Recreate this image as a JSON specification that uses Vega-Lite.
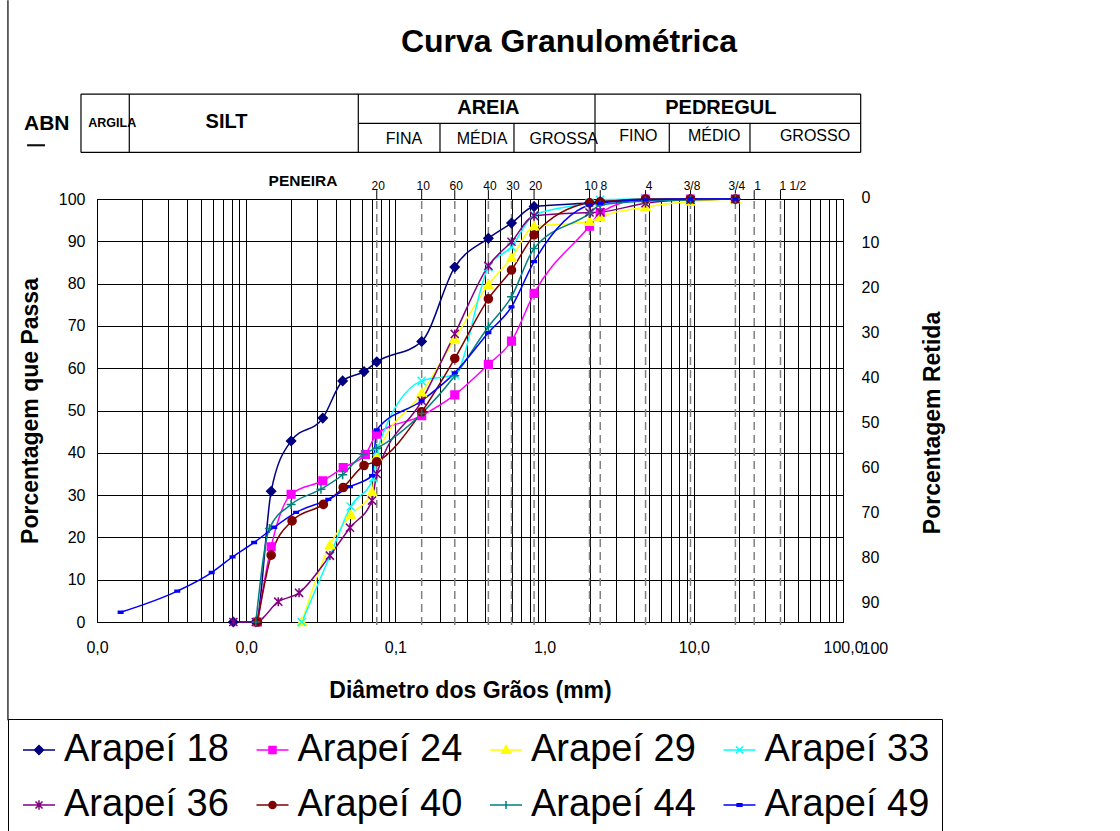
{
  "$schema": "https://vega.github.io/schema/vega-lite/v6.json",
  "width": 746,
  "height": 423,
  "autosize": {"type": "none"},
  "padding": {"left": 97, "top": 199, "right": 277, "bottom": 209},
  "background": "white",
  "config": {
    "font": "Liberation Sans",
    "view": {"stroke": "black", "strokeWidth": 1},
    "axis": {"labelColor": "black", "titleColor": "black", "labelFont": "Liberation Sans", "titleFont": "Liberation Sans"},
    "legend": {
      "orient": "none", "legendX": -89, "legendY": 520, "columns": 4, "direction": "horizontal",
      "strokeColor": "black", "padding": 12, "columnPadding": 24.5, "rowPadding": 17,
      "labelFontSize": 38, "labelColor": "black", "labelLimit": 400, "labelOffset": 6, "labelFont": "Liberation Sans",
      "symbolSize": 1024, "symbolStrokeWidth": 1.5
    }
  },
  "title": {"text": "Curva Granulométrica", "fontSize": 32, "fontWeight": "bold", "anchor": "middle", "frame": "group", "baseline": "bottom", "offset": -91, "dx": 99, "color": "black", "font": "Liberation Sans"},
  "datasets": {
    "series": [
      {"s":"Arapeí 18","d":0.0082,"p":0},{"s":"Arapeí 18","d":0.0116,"p":0},{"s":"Arapeí 18","d":0.0147,"p":30.9},{"s":"Arapeí 18","d":0.02,"p":42.8},{"s":"Arapeí 18","d":0.0326,"p":48.2},{"s":"Arapeí 18","d":0.0443,"p":57.0},{"s":"Arapeí 18","d":0.0616,"p":59.2},{"s":"Arapeí 18","d":0.075,"p":61.5},{"s":"Arapeí 18","d":0.15,"p":66.3},{"s":"Arapeí 18","d":0.25,"p":83.9},{"s":"Arapeí 18","d":0.42,"p":90.7},{"s":"Arapeí 18","d":0.6,"p":94.3},{"s":"Arapeí 18","d":0.85,"p":98.2},{"s":"Arapeí 18","d":2.0,"p":99.1},{"s":"Arapeí 18","d":2.36,"p":99.4},{"s":"Arapeí 18","d":4.75,"p":99.8},{"s":"Arapeí 18","d":9.5,"p":100},{"s":"Arapeí 18","d":19,"p":100},
      {"s":"Arapeí 24","d":0.0119,"p":0},{"s":"Arapeí 24","d":0.0147,"p":17.8},{"s":"Arapeí 24","d":0.02,"p":30.2},{"s":"Arapeí 24","d":0.0326,"p":33.4},{"s":"Arapeí 24","d":0.0447,"p":36.5},{"s":"Arapeí 24","d":0.0629,"p":39.6},{"s":"Arapeí 24","d":0.075,"p":44.4},{"s":"Arapeí 24","d":0.15,"p":48.8},{"s":"Arapeí 24","d":0.25,"p":53.7},{"s":"Arapeí 24","d":0.42,"p":60.9},{"s":"Arapeí 24","d":0.6,"p":66.4},{"s":"Arapeí 24","d":0.85,"p":77.7},{"s":"Arapeí 24","d":2.0,"p":93.6},{"s":"Arapeí 24","d":2.36,"p":96.8},{"s":"Arapeí 24","d":4.75,"p":100},{"s":"Arapeí 24","d":9.5,"p":100},{"s":"Arapeí 24","d":19,"p":100},
      {"s":"Arapeí 29","d":0.0236,"p":0},{"s":"Arapeí 29","d":0.0364,"p":18.2},{"s":"Arapeí 29","d":0.0502,"p":25.3},{"s":"Arapeí 29","d":0.0697,"p":30.7},{"s":"Arapeí 29","d":0.075,"p":39.1},{"s":"Arapeí 29","d":0.15,"p":54.1},{"s":"Arapeí 29","d":0.25,"p":66.9},{"s":"Arapeí 29","d":0.42,"p":79.7},{"s":"Arapeí 29","d":0.6,"p":86.1},{"s":"Arapeí 29","d":0.85,"p":93.5},{"s":"Arapeí 29","d":2.0,"p":94.6},{"s":"Arapeí 29","d":2.36,"p":95.8},{"s":"Arapeí 29","d":4.75,"p":98.1},{"s":"Arapeí 29","d":9.5,"p":99.4},{"s":"Arapeí 29","d":19,"p":100},
      {"s":"Arapeí 33","d":0.0236,"p":0},{"s":"Arapeí 33","d":0.0364,"p":15.6},{"s":"Arapeí 33","d":0.0502,"p":27.3},{"s":"Arapeí 33","d":0.0711,"p":34.0},{"s":"Arapeí 33","d":0.075,"p":40.3},{"s":"Arapeí 33","d":0.15,"p":57.0},{"s":"Arapeí 33","d":0.25,"p":58.5},{"s":"Arapeí 33","d":0.42,"p":83.9},{"s":"Arapeí 33","d":0.6,"p":88.7},{"s":"Arapeí 33","d":0.85,"p":96.2},{"s":"Arapeí 33","d":2.0,"p":99.1},{"s":"Arapeí 33","d":2.36,"p":99.8},{"s":"Arapeí 33","d":4.75,"p":100},{"s":"Arapeí 33","d":9.5,"p":100},{"s":"Arapeí 33","d":19,"p":100},
      {"s":"Arapeí 36","d":0.0082,"p":0},{"s":"Arapeí 36","d":0.0116,"p":0},{"s":"Arapeí 36","d":0.0164,"p":4.8},{"s":"Arapeí 36","d":0.0226,"p":6.9},{"s":"Arapeí 36","d":0.0364,"p":15.7},{"s":"Arapeí 36","d":0.0496,"p":22.3},{"s":"Arapeí 36","d":0.0697,"p":28.7},{"s":"Arapeí 36","d":0.075,"p":35.0},{"s":"Arapeí 36","d":0.15,"p":52.3},{"s":"Arapeí 36","d":0.25,"p":68.1},{"s":"Arapeí 36","d":0.42,"p":84.2},{"s":"Arapeí 36","d":0.6,"p":89.9},{"s":"Arapeí 36","d":0.85,"p":96.0},{"s":"Arapeí 36","d":2.0,"p":96.8},{"s":"Arapeí 36","d":2.36,"p":96.9},{"s":"Arapeí 36","d":4.75,"p":99.0},{"s":"Arapeí 36","d":9.5,"p":99.8},{"s":"Arapeí 36","d":19,"p":100},
      {"s":"Arapeí 40","d":0.0119,"p":0},{"s":"Arapeí 40","d":0.0147,"p":15.8},{"s":"Arapeí 40","d":0.0203,"p":23.9},{"s":"Arapeí 40","d":0.0329,"p":27.8},{"s":"Arapeí 40","d":0.0447,"p":31.8},{"s":"Arapeí 40","d":0.0616,"p":37.0},{"s":"Arapeí 40","d":0.075,"p":37.9},{"s":"Arapeí 40","d":0.15,"p":49.7},{"s":"Arapeí 40","d":0.25,"p":62.3},{"s":"Arapeí 40","d":0.42,"p":76.4},{"s":"Arapeí 40","d":0.6,"p":83.2},{"s":"Arapeí 40","d":0.85,"p":91.5},{"s":"Arapeí 40","d":2.0,"p":99.1},{"s":"Arapeí 40","d":2.36,"p":99.3},{"s":"Arapeí 40","d":4.75,"p":100},{"s":"Arapeí 40","d":9.5,"p":100},{"s":"Arapeí 40","d":19,"p":100},
      {"s":"Arapeí 44","d":0.0116,"p":0},{"s":"Arapeí 44","d":0.0143,"p":22.1},{"s":"Arapeí 44","d":0.02,"p":27.8},{"s":"Arapeí 44","d":0.0317,"p":31.4},{"s":"Arapeí 44","d":0.0443,"p":34.8},{"s":"Arapeí 44","d":0.0609,"p":39.7},{"s":"Arapeí 44","d":0.075,"p":41.1},{"s":"Arapeí 44","d":0.15,"p":49.3},{"s":"Arapeí 44","d":0.25,"p":58.2},{"s":"Arapeí 44","d":0.42,"p":69.8},{"s":"Arapeí 44","d":0.6,"p":76.9},{"s":"Arapeí 44","d":0.85,"p":88.3},{"s":"Arapeí 44","d":2.0,"p":96.6},{"s":"Arapeí 44","d":2.36,"p":98.6},{"s":"Arapeí 44","d":4.75,"p":99.5},{"s":"Arapeí 44","d":9.5,"p":99.8},{"s":"Arapeí 44","d":19,"p":100},
      {"s":"Arapeí 49","d":0.00144,"p":2.3},{"s":"Arapeí 49","d":0.00345,"p":7.3},{"s":"Arapeí 49","d":0.00587,"p":11.7},{"s":"Arapeí 49","d":0.0081,"p":15.4},{"s":"Arapeí 49","d":0.0113,"p":18.8},{"s":"Arapeí 49","d":0.0154,"p":22.4},{"s":"Arapeí 49","d":0.0216,"p":25.9},{"s":"Arapeí 49","d":0.0355,"p":29.0},{"s":"Arapeí 49","d":0.0496,"p":32.0},{"s":"Arapeí 49","d":0.0697,"p":34.6},{"s":"Arapeí 49","d":0.075,"p":45.4},{"s":"Arapeí 49","d":0.15,"p":52.3},{"s":"Arapeí 49","d":0.25,"p":58.9},{"s":"Arapeí 49","d":0.42,"p":68.4},{"s":"Arapeí 49","d":0.6,"p":74.5},{"s":"Arapeí 49","d":0.85,"p":85.2},{"s":"Arapeí 49","d":2.0,"p":98.6},{"s":"Arapeí 49","d":2.36,"p":99.0},{"s":"Arapeí 49","d":4.75,"p":99.8},{"s":"Arapeí 49","d":9.5,"p":100},{"s":"Arapeí 49","d":19,"p":100}
    ],
    "sieves": [
      {"d":0.075,"l":"20"},{"d":0.15,"l":"10"},{"d":0.25,"l":"60"},{"d":0.42,"l":"40"},{"d":0.6,"l":"30"},{"d":0.85,"l":"20"},{"d":2.0,"l":"10"},{"d":2.36,"l":"8"},{"d":4.75,"l":"4"},{"d":9.5,"l":"3/8"},{"d":19,"l":"3/4"},{"d":25.4,"l":"1"},{"d":38.1,"l":"1 1/2"}
    ],
    "table": [
      {"d":0.000781,"d2":131.4,"v":124.8,"v2":124.8},
      {"d":0.05641,"d2":131.4,"v":117.9,"v2":117.9},
      {"d":0.000781,"d2":131.4,"v":111.0,"v2":111.0},
      {"d":0.000781,"d2":0.000781,"v":111.0,"v2":124.8},
      {"d":0.001646,"d2":0.001646,"v":111.0,"v2":124.8},
      {"d":0.05641,"d2":0.05641,"v":111.0,"v2":124.8},
      {"d":2.177,"d2":2.177,"v":111.0,"v2":124.8},
      {"d":131.4,"d2":131.4,"v":111.0,"v2":124.8},
      {"d":0.199,"d2":0.199,"v":111.0,"v2":117.9},
      {"d":0.6235,"d2":0.6235,"v":111.0,"v2":117.9},
      {"d":6.851,"d2":6.851,"v":111.0,"v2":117.9},
      {"d":23.8,"d2":23.8,"v":111.0,"v2":117.9},
      {"d":0.00034,"d2":0.000448,"v":112.8,"v2":112.8},
      {"d":0.00034,"d2":0.000448,"v":112.6,"v2":112.6},
      {"d":0.000253,"d2":0.000253,"v":-23.2,"v2":147.0}
    ],
    "bigLabels": [
      {"d":0.00738,"v":118.1,"t":"SILT"},{"d":0.4195,"v":121.6,"t":"AREIA"},{"d":15.17,"v":121.6,"t":"PEDREGUL"}
    ],
    "subLabels": [
      {"d":0.1142,"v":114.3,"t":"FINA"},{"d":0.3805,"v":114.3,"t":"MÉDIA"},{"d":1.345,"v":114.3,"t":"GROSSA"},{"d":4.246,"v":114.8,"t":"FINO"},{"d":13.7,"v":114.8,"t":"MÉDIO"},{"d":64.9,"v":114.8,"t":"GROSSO"}
    ]
  },
  "layer": [
    {
      "layer": [
        {
          "data": {"name": "sieves"},
          "mark": {"type": "rule", "color": "#808080", "strokeWidth": 1.5, "strokeDash": [8, 5]},
          "encoding": {
            "x": {"field": "d", "type": "quantitative", "scale": {"type": "log", "domain": [0.001, 100], "nice": false},
              "axis": {
                "values": [0.001,0.002,0.003,0.004,0.005,0.006,0.007,0.008,0.009,0.01,0.02,0.03,0.04,0.05,0.06,0.07,0.08,0.09,0.1,0.2,0.3,0.4,0.5,0.6,0.7,0.8,0.9,1,2,3,4,5,6,7,8,9,10,20,30,40,50,60,70,80,90,100],
                "labelExpr": "abs(log(datum.value)/LN10 - round(log(datum.value)/LN10)) < 0.001 ? replace(format(datum.value, '.1f'), '.', ',') : ''",
                "grid": true, "gridColor": "black", "gridWidth": 1, "gridOpacity": 1,
                "ticks": false, "domain": false,
                "labelFontSize": 16, "labelPadding": 17, "labelOverlap": false, "labelFlush": false, "labelBound": false,
                "title": "Diâmetro dos Grãos (mm)", "titleFontSize": 23, "titleFontWeight": "bold", "titlePadding": 24
              }
            },
            "y": {"datum": -0.7, "type": "quantitative", "scale": {"domain": [0, 100], "nice": false},
              "axis": {
                "values": [0,10,20,30,40,50,60,70,80,90,100],
                "grid": true, "gridColor": "black", "gridWidth": 1, "gridOpacity": 1,
                "ticks": false, "domain": false,
                "labelFontSize": 16, "labelPadding": 12,
                "title": "Porcentagem que Passa", "titleFontSize": 23, "titleFontWeight": "bold", "titlePadding": 16
              }
            },
            "y2": {"datum": 100}
          }
        },
        {
          "data": {"name": "sieves"},
          "mark": {"type": "rule", "color": "black", "strokeWidth": 1},
          "encoding": {
            "x": {"field": "d", "type": "quantitative"},
            "y": {"datum": 100, "type": "quantitative"},
            "y2": {"datum": 102.1}
          }
        },
        {
          "data": {"name": "sieves"},
          "transform": [{"filter": "length(datum.l) == 2 || length(datum.l) == 3"}],
          "mark": {"type": "text", "fontSize": 12, "color": "black", "baseline": "middle", "align": "center", "dx": 1.5},
          "encoding": {
            "x": {"field": "d", "type": "quantitative"},
            "y": {"datum": 103.1, "type": "quantitative"},
            "text": {"field": "l"}
          }
        },
        {
          "data": {"name": "sieves"},
          "transform": [{"filter": "length(datum.l) == 1"}],
          "mark": {"type": "text", "fontSize": 12, "color": "black", "baseline": "middle", "align": "center", "dx": 3.5},
          "encoding": {
            "x": {"field": "d", "type": "quantitative"},
            "y": {"datum": 103.1, "type": "quantitative"},
            "text": {"field": "l"}
          }
        },
        {
          "data": {"name": "sieves"},
          "transform": [{"filter": "length(datum.l) > 3"}],
          "mark": {"type": "text", "fontSize": 12, "color": "black", "baseline": "middle", "align": "left", "dx": -1},
          "encoding": {
            "x": {"field": "d", "type": "quantitative"},
            "y": {"datum": 103.1, "type": "quantitative"},
            "text": {"field": "l"}
          }
        },
        {
          "data": {"name": "table"},
          "mark": {"type": "rule", "color": "black", "strokeWidth": 1.2},
          "encoding": {
            "x": {"field": "d", "type": "quantitative"},
            "x2": {"field": "d2"},
            "y": {"field": "v", "type": "quantitative"},
            "y2": {"field": "v2"}
          }
        },
        {
          "data": {"values": [{"d": 0.000324, "v": 117.8, "t": "ABN"}]},
          "mark": {"type": "text", "fontSize": 21, "fontWeight": "bold", "align": "left", "baseline": "middle", "color": "black"},
          "encoding": {
            "x": {"field": "d", "type": "quantitative"},
            "y": {"field": "v", "type": "quantitative"},
            "text": {"field": "t"}
          }
        },
        {
          "data": {"values": [{"d": 0.000874, "v": 117.9, "t": "ARGILA"}]},
          "mark": {"type": "text", "fontSize": 12.5, "fontWeight": "bold", "align": "left", "baseline": "middle", "color": "black"},
          "encoding": {
            "x": {"field": "d", "type": "quantitative"},
            "y": {"field": "v", "type": "quantitative"},
            "text": {"field": "t"}
          }
        },
        {
          "data": {"name": "bigLabels"},
          "mark": {"type": "text", "fontSize": 20, "fontWeight": "bold", "align": "center", "baseline": "middle", "color": "black"},
          "encoding": {
            "x": {"field": "d", "type": "quantitative"},
            "y": {"field": "v", "type": "quantitative"},
            "text": {"field": "t"}
          }
        },
        {
          "data": {"name": "subLabels"},
          "mark": {"type": "text", "fontSize": 16, "align": "center", "baseline": "middle", "color": "black"},
          "encoding": {
            "x": {"field": "d", "type": "quantitative"},
            "y": {"field": "v", "type": "quantitative"},
            "text": {"field": "t"}
          }
        },
        {
          "data": {"values": [{"d": 0.02403, "v": 104.3, "t": "PENEIRA"}]},
          "mark": {"type": "text", "fontSize": 15.5, "fontWeight": "bold", "align": "center", "baseline": "middle", "color": "black"},
          "encoding": {
            "x": {"field": "d", "type": "quantitative"},
            "y": {"field": "v", "type": "quantitative"},
            "text": {"field": "t"}
          }
        },
        {
          "data": {"name": "series"},
          "mark": {"type": "line", "strokeWidth": 1.5, "interpolate": "monotone"},
          "encoding": {
            "x": {"field": "d", "type": "quantitative"},
            "y": {"field": "p", "type": "quantitative"},
            "color": {"field": "s", "type": "nominal",
              "scale": {"domain": ["Arapeí 18","Arapeí 24","Arapeí 29","Arapeí 33","Arapeí 36","Arapeí 40","Arapeí 44","Arapeí 49"],
                "range": ["#000080","#FF00FF","#FFFF00","#00FFFF","#800080","#800000","#008080","#0000FF"]},
              "legend": {
                "title": null,
                "encoding": {"symbols": {
                  "shape": {"value": {"expr": "['M-1,0L1,0M0,-0.28L0.28,0L0,0.28L-0.28,0Z','M-1,0L1,0M-0.22,-0.22L0.22,-0.22L0.22,0.22L-0.22,0.22Z','M-1,0L1,0M0,-0.28L0.28,0.2L-0.28,0.2Z','M-1,0L1,0M-0.22,-0.22L0.22,0.22M-0.22,0.22L0.22,-0.22','M-1,0L1,0M-0.22,-0.22L0.22,0.22M-0.22,0.22L0.22,-0.22M0,-0.3L0,0.3','M-1,0L1,0M-0.22,0A0.22,0.22,0,1,1,0.22,0A0.22,0.22,0,1,1,-0.22,0Z','M-1,0L1,0M0,-0.25L0,0.25','M-1,0L1,0M-0.15,-0.08L0.15,-0.08L0.15,0.08L-0.15,0.08Z'][indexof(['Arapeí 18','Arapeí 24','Arapeí 29','Arapeí 33','Arapeí 36','Arapeí 40','Arapeí 44','Arapeí 49'], datum.value)]"}},
                  "stroke": {"value": {"expr": "['#000080','#FF00FF','#FFFF00','#00FFFF','#800080','#800000','#008080','#0000FF'][indexof(['Arapeí 18','Arapeí 24','Arapeí 29','Arapeí 33','Arapeí 36','Arapeí 40','Arapeí 44','Arapeí 49'], datum.value)]"}},
                  "fill": {"value": {"expr": "['#000080','#FF00FF','#FFFF00','#00FFFF','#800080','#800000','#008080','#0000FF'][indexof(['Arapeí 18','Arapeí 24','Arapeí 29','Arapeí 33','Arapeí 36','Arapeí 40','Arapeí 44','Arapeí 49'], datum.value)]"}},
                  "size": {"value": 1024},
                  "strokeWidth": {"value": 1.5},
                  "opacity": {"value": 1}
                }}
              }
            }
          }
        },
        {
          "data": {"name": "series"},
          "mark": {"type": "point", "filled": true, "opacity": 1, "size": 81, "strokeWidth": 1.5},
          "encoding": {
            "x": {"field": "d", "type": "quantitative"},
            "y": {"field": "p", "type": "quantitative"},
            "fill": {"field": "s", "type": "nominal", "legend": null,
              "scale": {"range": ["#000080","#FF00FF","#FFFF00","#00FFFF","#800080","#800000","#008080","#0000FF"]}},
            "stroke": {"field": "s", "type": "nominal", "legend": null,
              "scale": {"range": ["#000080","#FF00FF","#FFFF00","#00FFFF","#800080","#800000","#008080","#0000FF"]}},
            "shape": {"field": "s", "type": "nominal", "legend": null,
              "scale": {"range": ["M0,-1L1,0L0,1L-1,0Z","M-0.85,-0.85L0.85,-0.85L0.85,0.85L-0.85,0.85Z","M0,-1L1,0.75L-1,0.75Z","M-0.9,-0.9L0.9,0.9M-0.9,0.9L0.9,-0.9","M-0.9,-0.9L0.9,0.9M-0.9,0.9L0.9,-0.9M0,-1L0,1","M-0.9,0A0.9,0.9,0,1,1,0.9,0A0.9,0.9,0,1,1,-0.9,0Z","M-1,0L1,0M0,-1L0,1","M-0.5,-0.2L0.5,-0.2L0.5,0.2L-0.5,0.2Z"]}}
          }
        }
      ]
    },
    {
      "data": {"values": [{"r": 0}, {"r": 100}]},
      "mark": {"type": "point", "opacity": 0},
      "encoding": {
        "y": {"field": "r", "type": "quantitative", "scale": {"domain": [0, 100], "range": [-2, 449], "nice": false, "zero": false},
          "axis": {
            "orient": "right", "values": [0,10,20,30,40,50,60,70,80,90,100],
            "grid": false, "ticks": false, "domain": false,
            "labelFontSize": 16, "labelPadding": 18,
            "title": "Porcentagem Retida", "titleFontSize": 23, "titleFontWeight": "bold", "titlePadding": 34, "titleAngle": 270, "titleBaseline": "top"
          }
        }
      }
    }
  ],
  "resolve": {"scale": {"y": "independent"}}
}
